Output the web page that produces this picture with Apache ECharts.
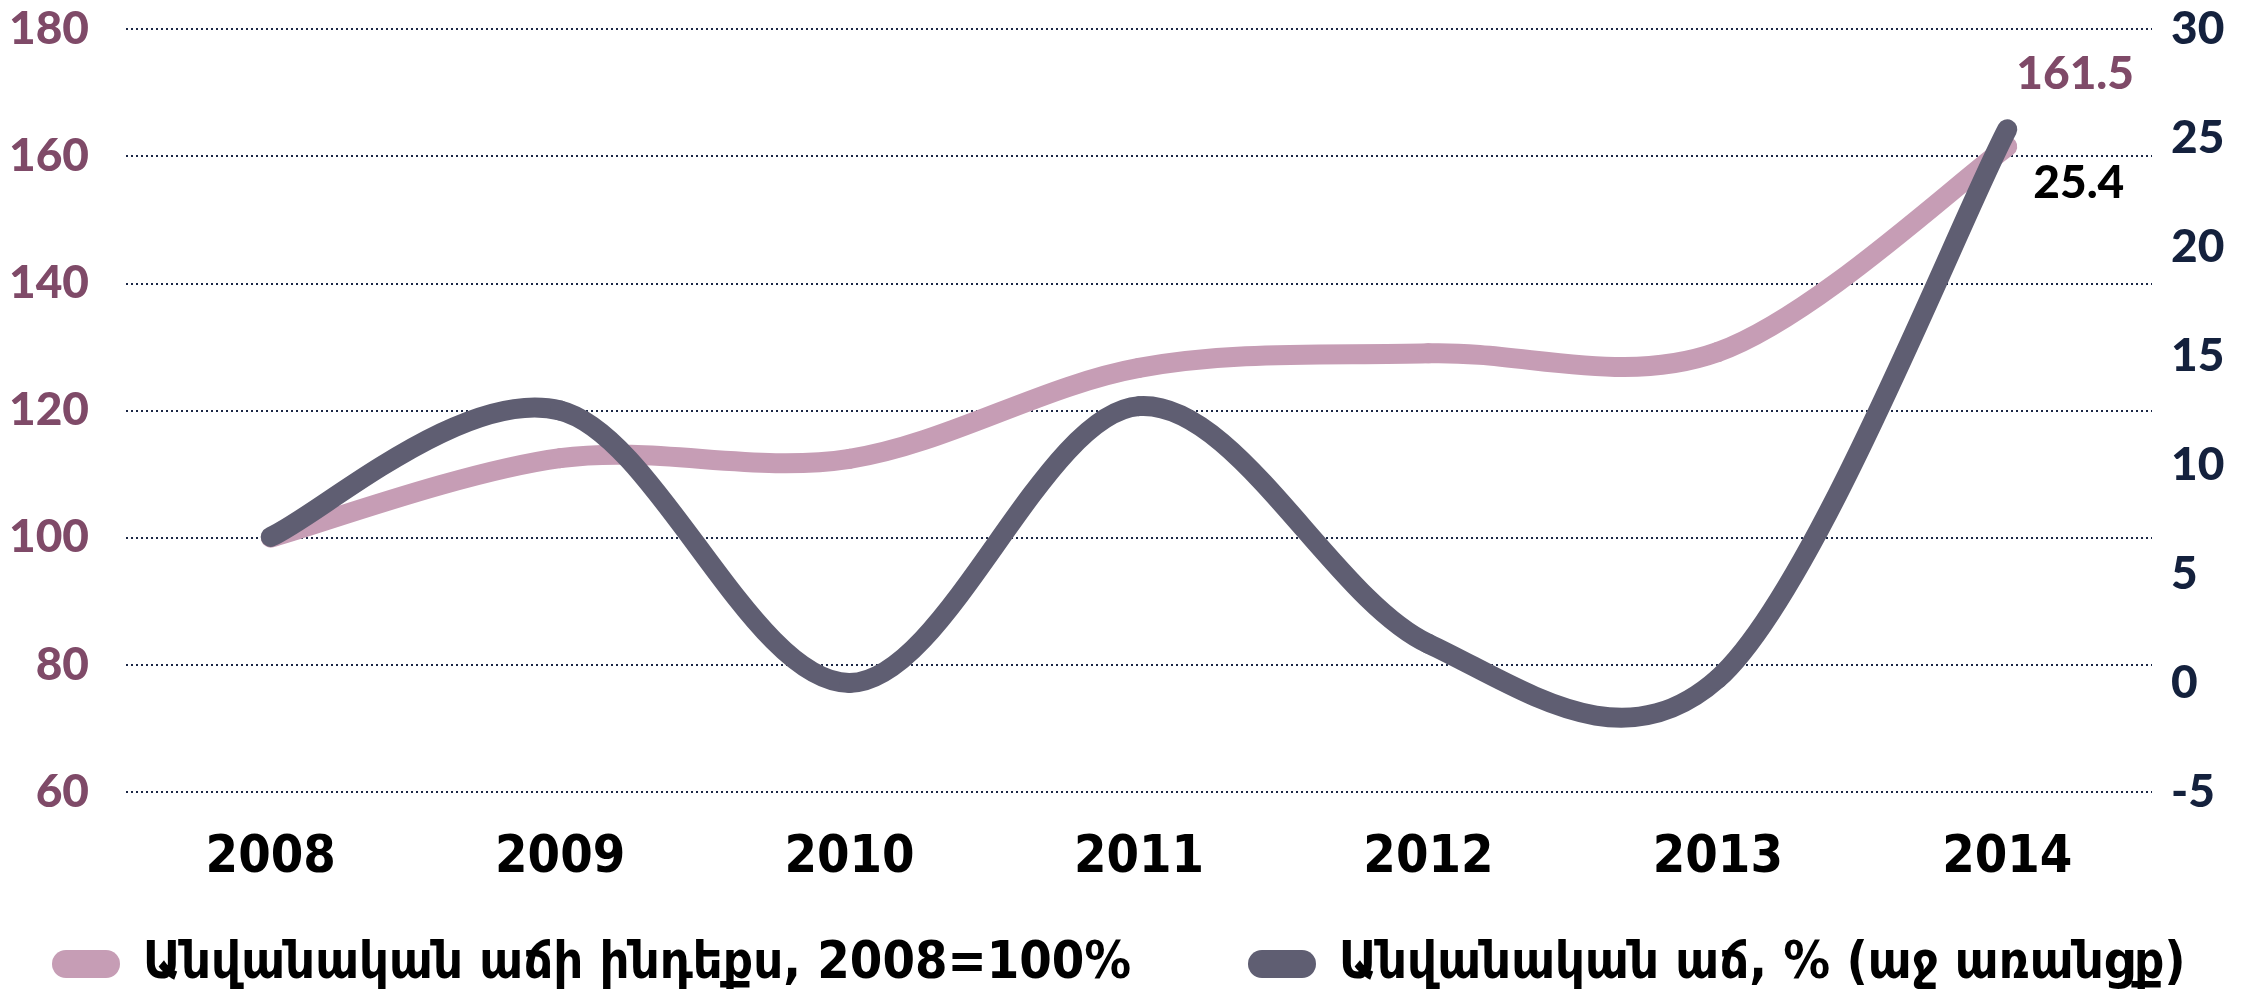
<!DOCTYPE html>
<html>
<head>
<meta charset="utf-8">
<title>Անվանական աճ</title>
<script src="https://cdn.jsdelivr.net/npm/echarts@6/dist/echarts.min.js"></script>
<style>
  html, body { margin: 0; padding: 0; background: #fff; }
  #chart { width: 2254px; height: 990px; }
</style>
</head>
<body>
<div id="chart"></div>
<script>
// տարիներ
var years = ['2008', '2009', '2010', '2011', '2012', '2013', '2014'];
// Անվանական աճի ինդեքս, 2008=100% (ձախ առանցք)
var indexValues = [100, 112.5, 112.4, 126.7, 129.0, 129.2, 161.5];
// Անվանական աճ, % (աջ առանցք)
var growthValues = [6.7, 12.5, 0.0, 12.7, 1.8, 0.2, 25.4];

var leftTicks = { min: 60, max: 180, interval: 20 };
var rightTicks = { min: -5, max: 30, interval: 5 };

var seriesNames = ['Անվանական աճի ինդեքս, 2008=100%', 'Անվանական աճ, % (աջ առանցք)'];

var pillIcon = 'path://M14,0 H54 A14,14 0 0 1 54,28 H14 A14,14 0 0 1 14,0 Z';
var numFont = 'Lato, sans-serif';
var legendFont = '"DejaVu Sans Condensed", "DejaVu Sans", sans-serif';

// excel-ի նման հարթեցված գիծ (catmull-rom), կետերը՝ առանցքների միջոցով
function smoothRenderer(values, color, lbl) {
    return function (params, api) {
        var i = params.dataIndex;
        var n = values.length;
        function pt(k) {
            k = Math.max(0, Math.min(n - 1, k));
            return api.coord([k, values[k]]);
        }
        var p1 = pt(i);
        if (i === n - 1) {
            return {
                type: 'text',
                x: p1[0] + lbl.dx,
                y: p1[1] + lbl.dy,
                style: {
                    text: String(values[i]),
                    fill: lbl.color,
                    font: '900 46px ' + numFont,
                    align: 'left',
                    verticalAlign: 'middle'
                }
            };
        }
        var p0 = pt(i - 1), p2 = pt(i + 1), p3 = pt(i + 2);
        var t = 1 / 6;
        return {
            type: 'bezierCurve',
            shape: {
                x1: p1[0], y1: p1[1],
                x2: p2[0], y2: p2[1],
                cpx1: p1[0] + (p2[0] - p0[0]) * t,
                cpy1: p1[1] + (p2[1] - p0[1]) * t,
                cpx2: p2[0] - (p3[0] - p1[0]) * t,
                cpy2: p2[1] - (p3[1] - p1[1]) * t
            },
            style: {
                fill: null,
                stroke: color,
                lineWidth: 20,
                lineCap: 'round'
            }
        };
    };
}

var myChart = echarts.init(document.getElementById('chart'));

var option = {
    backgroundColor: '#ffffff',
    animation: false,
    grid: {
        left: 126,
        right: 102,
        top: 29,
        bottom: 198
    },
    legend: [{
        left: 47,
        top: 933,
        icon: pillIcon,
        itemWidth: 68,
        itemHeight: 28,
        data: [seriesNames[0]],
        textStyle: {
            fontFamily: legendFont,
            fontWeight: 'bold',
            fontSize: 52,
            color: '#000',
            padding: [0, 0, 0, 18]
        }
    }, {
        left: 1243,
        top: 933,
        icon: pillIcon,
        itemWidth: 68,
        itemHeight: 28,
        data: [seriesNames[1]],
        textStyle: {
            fontFamily: legendFont,
            fontWeight: 'bold',
            fontSize: 52,
            color: '#000',
            padding: [0, 0, 0, 18]
        }
    }],
    xAxis: {
        type: 'category',
        data: years,
        boundaryGap: true,
        axisLine: { show: false },
        axisTick: { show: false },
        axisLabel: {
            margin: 40,
            fontFamily: '"Liberation Sans Narrow", "DejaVu Sans Condensed", sans-serif',
            fontWeight: 'bold',
            fontSize: 52,
            color: '#000'
        }
    },
    yAxis: [{
        type: 'value',
        min: leftTicks.min,
        max: leftTicks.max,
        interval: leftTicks.interval,
        axisLine: { show: false },
        axisTick: { show: false },
        axisLabel: {
            margin: 37,
            fontFamily: numFont,
            fontWeight: 900,
            fontSize: 46,
            color: '#7F4A68'
        },
        splitLine: {
            show: true,
            lineStyle: { color: '#1B2745', width: 2, type: [2, 3] }
        }
    }, {
        type: 'value',
        position: 'right',
        min: rightTicks.min,
        max: rightTicks.max,
        interval: rightTicks.interval,
        axisLine: { show: false },
        axisTick: { show: false },
        splitLine: { show: false },
        axisLabel: {
            margin: 19,
            fontFamily: numFont,
            fontWeight: 900,
            fontSize: 46,
            color: '#14213D'
        }
    }],
    series: [{
        name: seriesNames[0],
        type: 'custom',
        yAxisIndex: 0,
        clip: false,
        data: years.map(function (y, i) { return [i, indexValues[i]]; }),
        itemStyle: { color: '#C69DB5' },
        renderItem: smoothRenderer(indexValues, '#C69DB5', { dx: 9, dy: -72, color: '#7F4A68' })
    }, {
        name: seriesNames[1],
        type: 'custom',
        yAxisIndex: 1,
        clip: false,
        data: years.map(function (y, i) { return [i, growthValues[i]]; }),
        itemStyle: { color: '#5F5E72' },
        renderItem: smoothRenderer(growthValues, '#5F5E72', { dx: 26, dy: 54, color: '#000' })
    }]
};

myChart.setOption(option);
</script>
</body>
</html>
